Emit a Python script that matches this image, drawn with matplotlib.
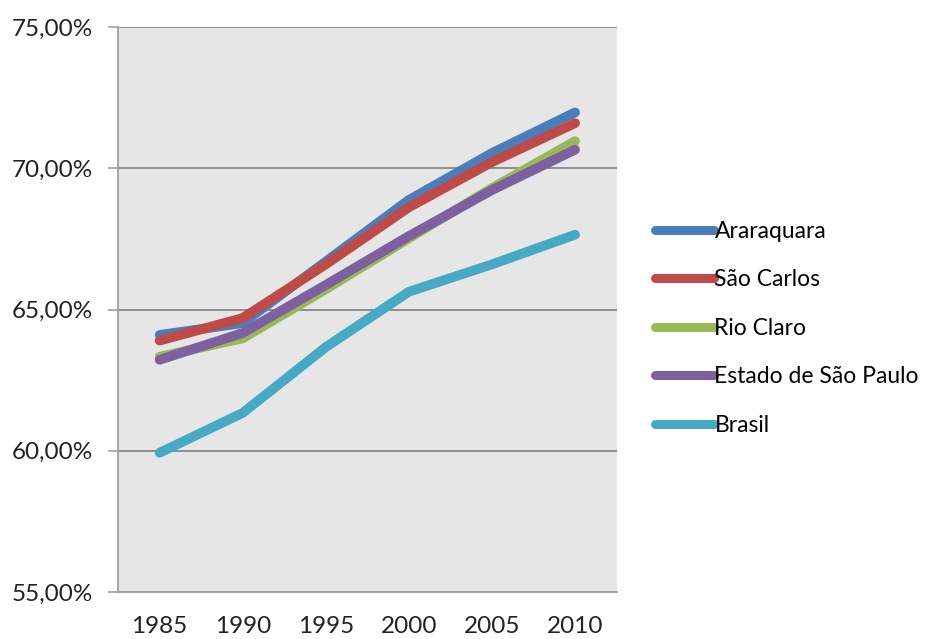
import matplotlib
matplotlib.use("Agg")
import matplotlib.pyplot as plt
from matplotlib.ticker import FuncFormatter

years = ["1985", "1990", "1995", "2000", "2005", "2010"]
araraquara = [64.10, 64.52, 66.70, 68.88, 70.54, 71.98]
sao_carlos = [63.90, 64.70, 66.60, 68.62, 70.22, 71.60]
rio_claro = [63.33, 63.98, 65.72, 67.52, 69.30, 70.96]
estado_sp = [63.22, 64.17, 65.87, 67.60, 69.23, 70.66]
brasil = [59.93, 61.34, 63.67, 65.63, 66.60, 67.65]

series = [
    ("Araraquara", araraquara, "#4A7EBB"),
    ("São Carlos", sao_carlos, "#BE4B48"),
    ("Rio Claro", rio_claro, "#98B954"),
    ("Estado de São Paulo", estado_sp, "#7D60A0"),
    ("Brasil", brasil, "#46AAC5"),
]

plt.rcParams["font.family"] = ["Lato", "DejaVu Sans"]

fig = plt.figure(figsize=(9.3, 6.39), dpi=100)
ax = fig.add_axes([0.127, 0.0736, 0.536, 0.884])
ax.set_facecolor("#E6E6E6")

x = list(range(len(years)))
for name, vals, color in series:
    ax.plot(x, vals, color=color, lw=7, solid_capstyle="round",
            solid_joinstyle="round", label=name)

ax.set_xlim(-0.5, len(years) - 0.5)
ax.set_ylim(55, 75)
ax.set_yticks([55, 60, 65, 70, 75])
ax.yaxis.set_major_formatter(FuncFormatter(lambda v, p: f"{v:.2f}%".replace(".", ",")))
ax.set_xticks(x)
ax.set_xticklabels(years)

ax.grid(axis="y", color="#868686", lw=1.3)
ax.set_axisbelow(True)

for side in ["top", "right"]:
    ax.spines[side].set_visible(False)
for side in ["left", "bottom"]:
    ax.spines[side].set_color("#A0A0A0")
    ax.spines[side].set_linewidth(1.3)

ax.tick_params(axis="y", length=7, width=1.2, color="#A0A0A0", pad=11,
               labelsize=17.5, labelcolor="#222222")
ax.tick_params(axis="x", length=0, pad=17, labelsize=17.5, labelcolor="#222222")

leg = fig.legend(loc="center left", bbox_to_anchor=(0.682, 0.486), frameon=False,
                 fontsize=16.5, handlelength=2.6, handletextpad=0.0,
                 labelspacing=1.2)
for h in leg.get_lines():
    h.set_linewidth(6.5)
    h.set_solid_capstyle("round")

fig.savefig("out.png", dpi=100, facecolor="white")
